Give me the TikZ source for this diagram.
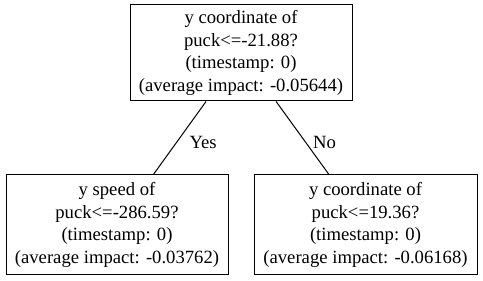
\documentclass[tikz,border=0pt]{standalone}
\usepackage{fontspec}
\setmainfont{Liberation Serif}
\usetikzlibrary{positioning}
\tikzset{
    split box/.style = {draw, rectangle, line width=0.75pt, align=center, inner sep=0pt, font=\fontsize{14pt}{16.8pt}\selectfont},
}
\tikzset{
    branch/.style = {font=\fontsize{14pt}{16.8pt}\selectfont, inner sep=0pt, yshift=-3pt},
}

\begin{document}
\begin{tikzpicture}[x=0.75pt, y=-0.75pt]
        \useasboundingbox (0, 0) rectangle (483, 281);

        \node[split box, minimum width=222*0.75pt, minimum height=96*0.75pt] (root) at (241, 53) {y coordinate of\\puck<=-21.88?\\(timestamp: 0)\\(average impact: -0.05644)};

        \node[split box, minimum width=222*0.75pt, minimum height=100*0.75pt] (yspeed) at (117, 225) {y speed of\\puck<=-286.59?\\(timestamp: 0)\\(average impact: -0.03762)};
        \node[split box, minimum width=223*0.75pt, minimum height=100*0.75pt] (ycoord) at (365.5, 225) {y coordinate of\\puck<=19.36?\\(timestamp: 0)\\(average impact: -0.06168)};

        \draw[line width=0.75pt] (root) -- (yspeed) node [branch, midway, right=7pt] {Yes};
        \draw[line width=0.75pt] (root) -- (ycoord) node [branch, midway, right=7.5pt] {No};
    \end{tikzpicture}
\end{document}
